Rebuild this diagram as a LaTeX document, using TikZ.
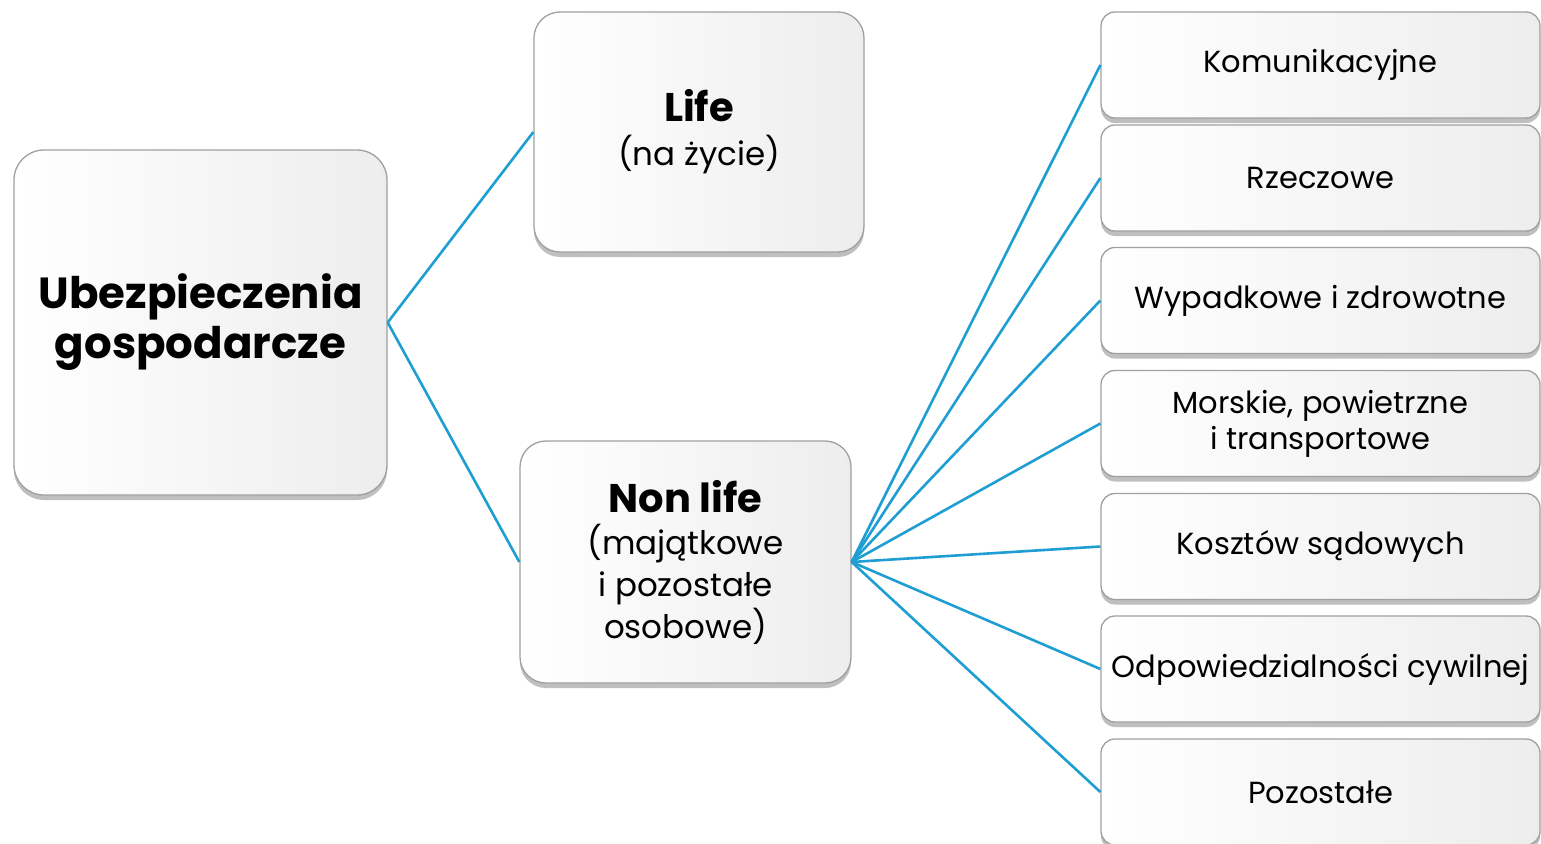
\documentclass[tikz,border=0pt]{standalone}
\usepackage{fontspec}
\setmainfont{Poppins}
\usetikzlibrary{shadows}
\definecolor{conn}{RGB}{30,158,210}
\definecolor{edgegray}{RGB}{160,160,160}
\newcommand{\hdfont}{\fontsize{40}{43}\selectfont\bfseries}
\newcommand{\subfont}{\fontsize{32.5}{43}\selectfont\mdseries}
\begin{document}
\begin{tikzpicture}[x=1pt,y=-1pt,
  box/.style={draw=edgegray, line width=1.3pt, rounded corners=#1,
    left color=white, right color=black!7,
    drop shadow={shadow xshift=0pt, shadow yshift=-5pt, fill=black!45, opacity=0.55},
    align=center, inner sep=0pt, text=black},
  bigbox/.style={box=30pt},
  midbox/.style={box=26pt},
  leaf/.style={box=14pt, minimum width=439pt, minimum height=106pt,
    font=\fontsize{30.5}{36}\selectfont},
  conn line/.style={draw=conn, line width=2.6pt}]
\useasboundingbox (0,0) rectangle (1541,843);
\clip (0,0) rectangle (1541,843);
\fill[white] (0,0) rectangle (1541,843);

\node[bigbox, minimum width=373pt, minimum height=345pt,
  font=\fontsize{43.5}{50}\selectfont\bfseries] (main) at (200.5,322.5)
  {Ubezpieczenia\\gospodarcze};
\node[midbox, minimum width=330pt, minimum height=240pt,
  font=\fontsize{32.5}{44}\selectfont] (life) at (699,132)
  {\hdfont Life\\ \subfont (na życie)};
\node[midbox, minimum width=331pt, minimum height=242pt,
  font=\fontsize{32.5}{42}\selectfont] (nonlife) at (685.5,562)
  {\hdfont Non life\\ \subfont (majątkowe\\ \subfont i pozostałe\\ \subfont osobowe)};

\node[leaf] (r1) at (1320.5,65) {Komunikacyjne};
\node[leaf] (r2) at (1320.5,178) {Rzeczowe};
\node[leaf] (r3) at (1320.5,300.5) {Wypadkowe i zdrowotne};
\node[leaf] (r4) at (1320.5,423.5) {Morskie, powietrzne\\ i transportowe};
\node[leaf] (r5) at (1320.5,546.5) {Kosztów sądowych};
\node[leaf] (r6) at (1320.5,669) {Odpowiedzialności cywilnej};
\node[leaf] (r7) at (1320.5,792) {Pozostałe};

\draw[conn line] (main.east) -- (life.west);
\draw[conn line] (main.east) -- (nonlife.west);
\foreach \r in {r1,r2,r3,r4,r5,r6,r7}
  \draw[conn line] (nonlife.east) -- (\r.west);
\end{tikzpicture}
\end{document}
